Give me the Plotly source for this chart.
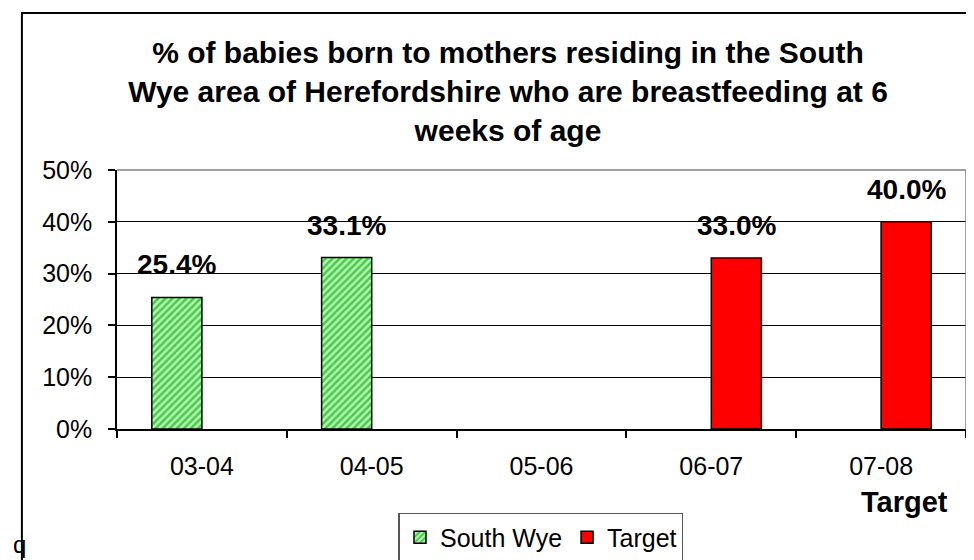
import plotly.graph_objects as go

categories = ["03-04", "04-05", "05-06", "06-07", "07-08"]
south_wye = [25.4, 33.1, None, None, None]
target = [None, None, None, 33.0, 40.0]
y_ticks = [0, 10, 20, 30, 40, 50]
y_tick_labels = ["0%", "10%", "20%", "30%", "40%", "50%"]
title_text = ("% of babies born to mothers residing in the South<br>"
              "Wye area of Herefordshire who are breastfeeding at 6<br>"
              "weeks of age")

FONT = "Liberation Sans, Arial, sans-serif"

fig = go.Figure()
fig.add_trace(go.Bar(
    name="South Wye", x=categories, y=south_wye,
    marker=dict(color="#99ff99", line=dict(color="black", width=1.5),
                pattern=dict(shape="/", fgcolor="#008800", bgcolor="#a8ffa8",
                             size=5, solidity=0.5)),
))
fig.add_trace(go.Bar(
    name="Target", x=categories, y=target,
    marker=dict(color="#ff0000", line=dict(color="black", width=1.5)),
))

# value labels
annotations = []
for series, shift in ((south_wye, -25), (target, 25)):
    for c, v in zip(categories, series):
        if v is None:
            continue
        annotations.append(dict(
            x=c, y=v, xref="x", yref="y", text=f"{v:.1f}%", showarrow=False,
            xshift=shift, yshift=15, yanchor="bottom", xanchor="center",
            font=dict(family=FONT, size=28, color="black", weight="bold")))

annotations.append(dict(
    x=0.928, y=-0.282, xref="paper", yref="paper", text="<b>Target</b>",
    showarrow=False, xanchor="center", yanchor="middle",
    font=dict(family=FONT, size=29, color="black")))
annotations.append(dict(
    x=-0.105, y=-0.445, xref="paper", yref="paper", text="q",
    showarrow=False, xanchor="right", yanchor="middle",
    font=dict(family=FONT, size=24, color="black")))

shapes = [
    # plot area border (top/right) in gray
    dict(type="path", xref="paper", yref="paper", path="M 0,1 L 1,1 L 1,0",
         line=dict(color="#808080", width=1.5)),
    # outer chart border (left and top, right/bottom offscreen)
    dict(type="line", xref="paper", yref="paper", x0=-0.112, x1=-0.112,
         y0=-0.6, y1=1.606, line=dict(color="black", width=2)),
    dict(type="line", xref="paper", yref="paper", x0=-0.113, x1=1.2,
         y0=1.606, y1=1.606, line=dict(color="black", width=2)),
]

fig.update_layout(
    width=966, height=552,
    margin=dict(l=109, r=8, t=162, b=131, autoexpand=False),
    paper_bgcolor="white", plot_bgcolor="white",
    barmode="group", bargap=0.41, bargroupgap=0,
    title=dict(text=f"<b>{title_text}</b>", x=0.5176, xanchor="center",
               y=0.9004, yanchor="middle",
               font=dict(family=FONT, size=30, color="black")),
    font=dict(family=FONT, size=25, color="black"),
    showlegend=True,
    legend=dict(orientation="h", x=0.4994, xanchor="center", y=-0.324,
                yanchor="top", bordercolor="#555555", borderwidth=1.5,
                font=dict(family=FONT, size=25, color="black"),
                bgcolor="white"),
    annotations=annotations,
    shapes=shapes,
)
fig.update_xaxes(
    type="category", showline=True, linecolor="black", linewidth=1.5,
    ticks="outside", tickson="boundaries", ticklen=7, tickcolor="black",
    tickwidth=1.5, showgrid=False, automargin=False,
    tickfont=dict(family=FONT, size=25, color="black"),
    ticklabelstandoff=14,
)
fig.update_yaxes(
    range=[0, 50], tickvals=y_ticks, ticktext=y_tick_labels,
    showline=True, linecolor="black", linewidth=1.5,
    ticks="outside", ticklen=7, tickcolor="black", tickwidth=1.5,
    showgrid=True, gridcolor="black", gridwidth=1, zeroline=False,
    automargin=False,
    tickfont=dict(family=FONT, size=25, color="black"),
    ticklabelstandoff=11,
)

fig.write_html("out.html")
